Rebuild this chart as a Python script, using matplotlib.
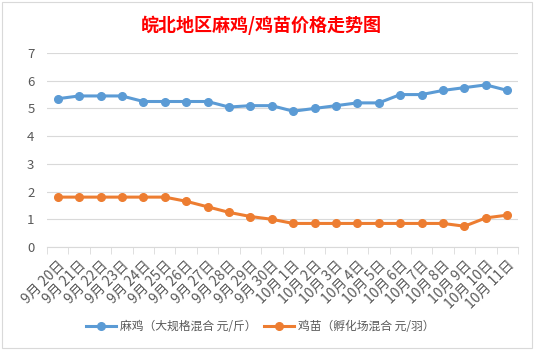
import matplotlib
matplotlib.use("Agg")
import matplotlib.pyplot as plt
from matplotlib.patches import Rectangle

plt.rcParams['font.family'] = ['Noto Sans CJK SC', 'DejaVu Sans']

categories = ["9月 20日", "9月 21日", "9月 22日", "9月 23日", "9月 24日", "9月 25日",
              "9月 26日", "9月 27日", "9月 28日", "9月 29日", "9月 30日", "10月 1日",
              "10月 2日", "10月 3日", "10月 4日", "10月 5日", "10月 6日", "10月 7日",
              "10月 8日", "10月 9日", "10月 10日", "10月 11日"]
maji = [5.35, 5.45, 5.45, 5.45, 5.25, 5.25, 5.25, 5.25, 5.05, 5.1, 5.1, 4.9,
        5.0, 5.1, 5.2, 5.2, 5.5, 5.5, 5.65, 5.75, 5.85, 5.65]
jimiao = [1.8, 1.8, 1.8, 1.8, 1.8, 1.8, 1.65, 1.45, 1.25, 1.1, 1.0, 0.85,
          0.85, 0.85, 0.85, 0.85, 0.85, 0.85, 0.85, 0.75, 1.05, 1.15]
series_names = ["麻鸡（大规格混合 元/斤）", "鸡苗（孵化场混合 元/羽）"]
title = "皖北地区麻鸡/鸡苗价格走势图"

fig = plt.figure(figsize=(5.35, 3.51), dpi=100)
fig.patch.set_facecolor('white')
fig.patches.append(Rectangle((2/535, 1-348/351), 530/535, 346/351, transform=fig.transFigure,
                             fill=False, edgecolor='#d9d9d9', linewidth=0.8))

ax = fig.add_axes([47/535, 1-247/351, (518-47)/535, (247-53)/351])
x = list(range(len(categories)))
ax.plot(x, maji, color='#5B9BD5', linewidth=2.2, marker='o', markersize=5.5, label=series_names[0], zorder=3)
ax.plot(x, jimiao, color='#ED7D31', linewidth=2.2, marker='o', markersize=5.5, label=series_names[1], zorder=3)

ax.set_xlim(-0.5, len(categories) - 0.5)
ax.set_ylim(0, 7)
ax.set_yticks(range(0, 8))
ax.yaxis.grid(True, color='#d9d9d9', linewidth=0.8)
ax.set_axisbelow(True)
for s in ['top', 'right', 'left']:
    ax.spines[s].set_visible(False)
ax.spines['bottom'].set_color('#d9d9d9')
ax.tick_params(axis='y', length=0, labelsize=9.5, labelcolor='#595959', pad=9)

ax.set_xticks(x)
ax.set_xticklabels(categories, rotation=45, ha='right', va='top', rotation_mode='anchor',
                   fontsize=10, color='#595959')
ax.set_xticks([i - 0.5 for i in range(len(categories) + 1)], minor=True)
ax.tick_params(axis='x', which='major', length=0, pad=8)
ax.tick_params(axis='x', which='minor', length=5, color='#d9d9d9')

fig.text(261/535, 1-25/351, title, ha='center', va='center', color='#ff0000',
         fontsize=13, fontweight='bold')

fig.legend(loc='center', bbox_to_anchor=(260/535, 1-327/351), ncol=2, frameon=False,
           fontsize=8.5, handlelength=2.6, columnspacing=0.6, handletextpad=0.3,
           labelcolor='#595959')

fig.savefig('out.png', dpi=100)
